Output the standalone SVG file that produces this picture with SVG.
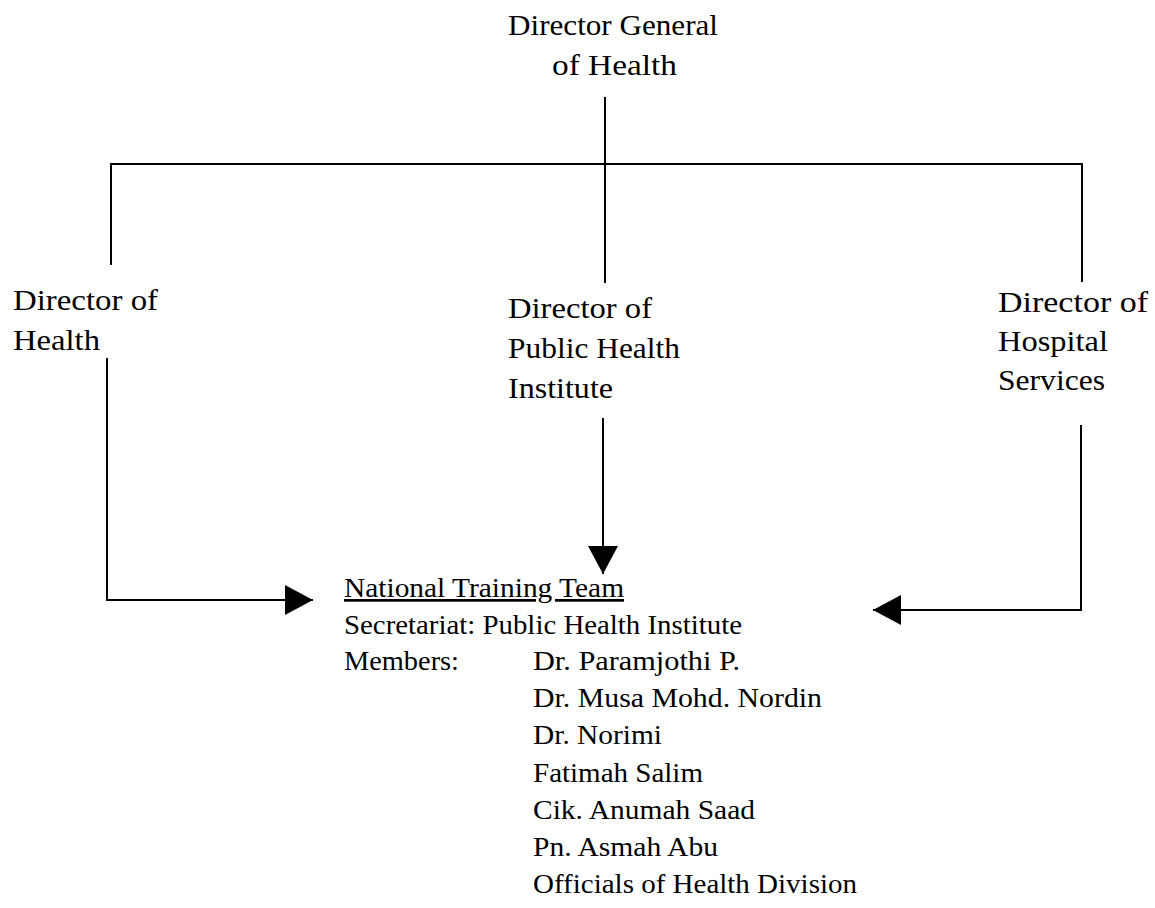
<svg xmlns="http://www.w3.org/2000/svg" width="1155" height="908" viewBox="0 0 1155 908">
<style>
text{font-family:"Liberation Serif","Times New Roman",serif;fill:#000}
.h{font-size:29px}
.b{font-size:27px}
.c{fill:none;stroke:#000;stroke-width:2}
</style>
<defs>
<marker id="arr" markerUnits="userSpaceOnUse" markerWidth="30" markerHeight="32" refX="28" refY="15" orient="auto">
<path d="M0,0 L28,15 L0,30 Z" fill="#000"/>
</marker>
</defs>
<rect width="1155" height="908" fill="#fff"/>
<g id="connectors">
<path class="c" d="M605,97 V283"/>
<path class="c" d="M111,265 V164 H1082 V282"/>
<path class="c" d="M107,358 V600 H313" marker-end="url(#arr)"/>
<path class="c" d="M603,418 V574" marker-end="url(#arr)"/>
<path class="c" d="M1081,425 V610 H873" marker-end="url(#arr)"/>
</g>
<g id="director-general">
<text class="h" x="508" y="35" textLength="210" lengthAdjust="spacingAndGlyphs">Director General</text>
<text class="h" x="552" y="75" textLength="125" lengthAdjust="spacingAndGlyphs">of Health</text>
</g>
<g id="director-health">
<text class="h" x="13" y="310" textLength="145" lengthAdjust="spacingAndGlyphs">Director of</text>
<text class="h" x="13" y="350" textLength="87" lengthAdjust="spacingAndGlyphs">Health</text>
</g>
<g id="director-phi">
<text class="h" x="508" y="318" textLength="144" lengthAdjust="spacingAndGlyphs">Director of</text>
<text class="h" x="508" y="358" textLength="172" lengthAdjust="spacingAndGlyphs">Public Health</text>
<text class="h" x="508" y="398" textLength="105" lengthAdjust="spacingAndGlyphs">Institute</text>
</g>
<g id="director-hospital">
<text class="h" x="998" y="312" textLength="150" lengthAdjust="spacingAndGlyphs">Director of</text>
<text class="h" x="998" y="351" textLength="110" lengthAdjust="spacingAndGlyphs">Hospital</text>
<text class="h" x="998" y="390" textLength="107" lengthAdjust="spacingAndGlyphs">Services</text>
</g>
<g id="national-training-team">
<text class="b" x="344" y="597" textLength="280" lengthAdjust="spacingAndGlyphs" text-decoration="underline">National Training Team</text>
<text class="b" x="344" y="634" textLength="398" lengthAdjust="spacingAndGlyphs">Secretariat: Public Health Institute</text>
<text class="b" x="344" y="670" textLength="115" lengthAdjust="spacingAndGlyphs">Members:</text>
<text class="b" x="533" y="670" textLength="207" lengthAdjust="spacingAndGlyphs">Dr. Paramjothi P.</text>
<text class="b" x="533" y="707" textLength="289" lengthAdjust="spacingAndGlyphs">Dr. Musa Mohd. Nordin</text>
<text class="b" x="533" y="744" textLength="129" lengthAdjust="spacingAndGlyphs">Dr. Norimi</text>
<text class="b" x="533" y="782" textLength="170" lengthAdjust="spacingAndGlyphs">Fatimah Salim</text>
<text class="b" x="533" y="819" textLength="222" lengthAdjust="spacingAndGlyphs">Cik. Anumah Saad</text>
<text class="b" x="533" y="856" textLength="185" lengthAdjust="spacingAndGlyphs">Pn. Asmah Abu</text>
<text class="b" x="533" y="893" textLength="324" lengthAdjust="spacingAndGlyphs">Officials of Health Division</text>
</g>
</svg>
